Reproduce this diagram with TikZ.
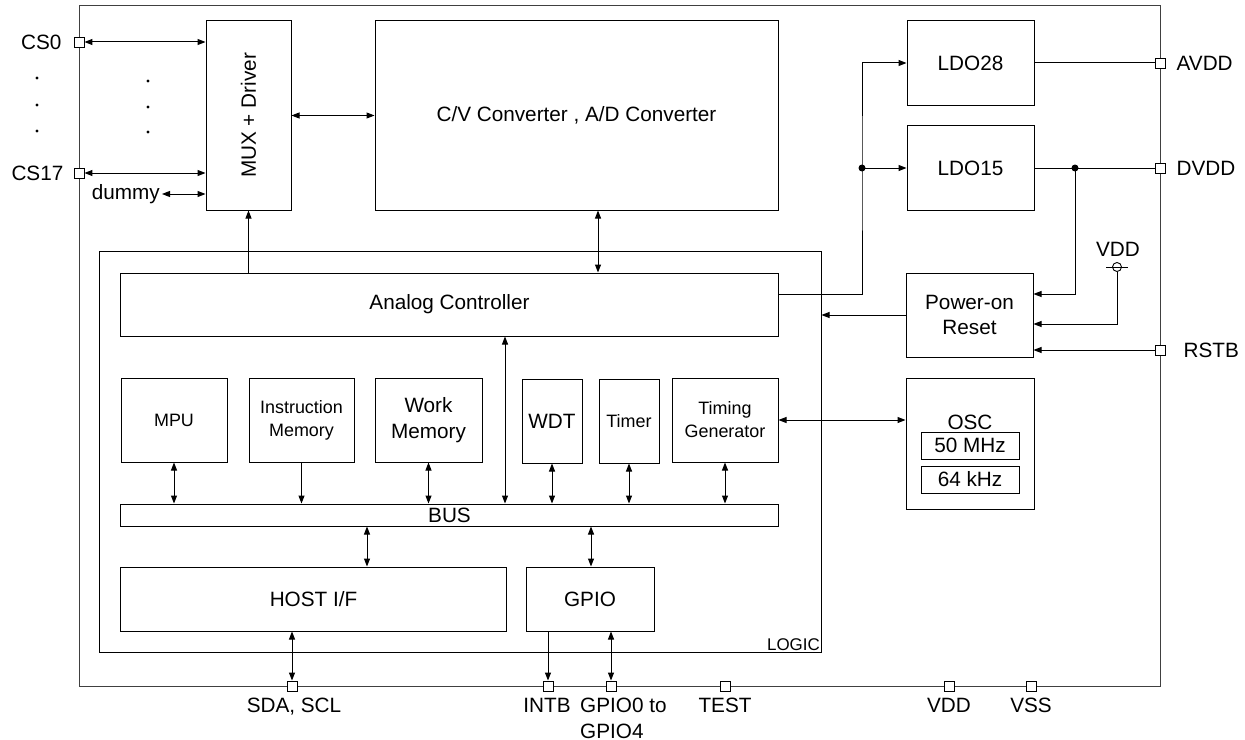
\documentclass[tikz,border=0pt]{standalone}
\usepackage{fontspec}
\setmainfont{Liberation Sans}
\usetikzlibrary{arrows.meta,calc}
\newcommand\fL{\fontsize{20.8}{25.5}\selectfont}
\newcommand\fM{\fontsize{18}{23}\selectfont}
\newcommand\fS{\fontsize{17}{19}\selectfont}
\tikzset{
  >={Triangle[length=8bp,width=6bp]},
  blk/.style={draw, line width=1bp, inner sep=0pt, align=center, font=\fL},
  pinbox/.style={draw, fill=white, line width=0.9bp, minimum size=10bp, inner sep=0pt},
  wire/.style={line width=1bp},
  lbl/.style={font=\fL, inner sep=0pt},
}
\begin{document}
\begin{tikzpicture}[x=1bp,y=-1bp]
\useasboundingbox (0,0) rectangle (1245,740);
% outer frame
\draw[line width=1bp, black!75] (79,6) rectangle (1160,686);

% blocks
\node[blk, minimum width=85bp, minimum height=189bp] (mux) at (248.5,115.5) {};
\node[font=\fL, rotate=90] at (mux) {MUX + Driver};
\node[blk, minimum width=403bp, minimum height=189bp] (conv) at (576.5,115.5) {C/V Converter , A/D Converter};
\node[blk, minimum width=127bp, minimum height=84bp] (ldo28) at (970.5,63) {LDO28};
\node[blk, minimum width=127bp, minimum height=84bp] (ldo15) at (970.5,168) {LDO15};
\node[blk, minimum width=721bp, minimum height=400bp] (logic) at (460.5,452) {};
\node[font=\fS, anchor=south east, inner sep=1.5bp] at (logic.south east) {LOGIC};
\node[blk, minimum width=657bp, minimum height=63bp] (analog) at (449.5,304.5) {Analog Controller};
\node[blk, minimum width=127bp, minimum height=84bp] (por) at (969.5,315) {Power-on\\Reset};
\node[blk, minimum width=128bp, minimum height=131bp] (osc) at (970,443.5) {};
\node[font=\fL, inner sep=0pt] at (970,422) {OSC};
\node[blk, minimum width=98bp, minimum height=27bp] (f50) at (970,445.5) {50 MHz};
\node[blk, minimum width=98bp, minimum height=27bp] (f64) at (970,479.5) {64 kHz};

\node[blk, font=\fM, minimum width=106bp, minimum height=84bp] (mpu) at (174,420) {MPU};
\node[blk, font=\fM, minimum width=105bp, minimum height=84bp] (imem) at (301.5,420) {Instruction\\Memory};
\node[blk, minimum width=107bp, minimum height=84bp] (wmem) at (428.5,420) {Work\\Memory};
\node[blk, minimum width=60bp, minimum height=84bp] (wdt) at (552,421) {WDT};
\node[blk, font=\fM, minimum width=60bp, minimum height=84bp] (timer) at (629,421) {Timer};
\node[blk, font=\fM, minimum width=106bp, minimum height=84bp] (tg) at (725,420) {Timing\\Generator};
\node[blk, minimum width=657bp, minimum height=22bp] (bus) at (449.5,515) {BUS};
\node[blk, minimum width=385bp, minimum height=64bp] (host) at (313.5,599) {HOST I/F};
\node[blk, minimum width=128bp, minimum height=64bp] (gpio) at (590,599) {GPIO};

% pins
\node[pinbox] (cs0) at (79,42) {};
\node[pinbox] (cs17) at (79,173) {};
\node[pinbox] (avdd) at (1160,63) {};
\node[pinbox] (dvdd) at (1160,168) {};
\node[pinbox] (rstb) at (1160,350) {};
\node[pinbox] (sda) at (292,686) {};
\node[pinbox] (intb) at (548,686) {};
\node[pinbox] (gpin) at (611,686) {};
\node[pinbox] (test) at (725,686) {};
\node[pinbox] (vddp) at (949,686) {};
\node[pinbox] (vss) at (1031,686) {};

% pin labels
\node[lbl, anchor=east] at ([xshift=-12bp]cs0.west) {CS0};
\node[lbl, anchor=east] at ([xshift=-10bp]cs17.west) {CS17};
\node[lbl, anchor=west] at ([xshift=11bp]avdd.east) {AVDD};
\node[lbl, anchor=west] at ([xshift=11bp]dvdd.east) {DVDD};
\node[lbl, anchor=west] at ([xshift=18bp]rstb.east) {RSTB};
\node[lbl, anchor=north] at (294,698) {SDA, SCL};
\node[lbl, anchor=north] at (547,698) {INTB};
\node[lbl, anchor=north west, align=left] at (580,698) {GPIO0 to\\GPIO4};
\node[lbl, anchor=north] at (725,698) {TEST};
\node[lbl, anchor=north] at (949,698) {VDD};
\node[lbl, anchor=north] at (1031,698) {VSS};
\node[lbl, anchor=east] (dummy) at (160,194) {dummy};

% dots
\foreach \yy in {78,105,131} \fill (37,\yy) circle (1.7bp);
\foreach \yy in {81,107,132} \fill (148,\yy) circle (1.7bp);

% connectors left
\draw[wire,<->] (cs0.east) -- (cs0.east -| mux.west);
\draw[wire,<->] (cs17.east) -- (cs17.east -| mux.west);
\draw[wire,<->] ([xshift=2bp]dummy.east) -- (dummy.east -| mux.west);
\draw[wire,<->] (mux.east) -- (conv.west);
\draw[wire,->] (analog.north -| mux.south) -- (mux.south);
\coordinate (cx1) at (598,0);
\draw[wire,<->] (conv.south -| cx1) -- (analog.north -| cx1);

% power
\coordinate (j1) at (862,168);
\draw[wire,->] ([yshift=10.5bp]analog.east) -| (j1) |- (ldo28.west);
\draw[wire,->] (j1) -- (ldo15.west);
\fill (j1) circle (3.5bp);
\draw[wire] (ldo28.east) -- (avdd.west);
\coordinate (j2) at (1075,168);
\draw[wire] (ldo15.east) -- (dvdd.west);
\draw[wire,->] (j2) |- ([yshift=21bp]por.east);
\fill (j2) circle (3.5bp);
\node[draw, circle, line width=0.9bp, minimum size=9bp, inner sep=0pt] (vsym) at (1117,267) {};
\draw[wire] (1106,267) -- (1128,267);
\node[lbl] at (1118,249) {VDD};
\draw[wire,->] (vsym.south) |- ([yshift=-9bp]por.east);
\draw[wire,->] (rstb.west) -- (rstb.west -| por.east);
\draw[wire,->] (por.west) -- (por.west -| logic.east);
\draw[wire,<->] (tg.east) -- (tg.east -| osc.west);

% logic internal
\coordinate (cx2) at (505,0);
\draw[wire,<->] (analog.south -| cx2) -- (bus.north -| cx2);
\draw[wire,<->] (mpu.south) -- (mpu.south |- bus.north);
\draw[wire,->] (imem.south) -- (imem.south |- bus.north);
\draw[wire,<->] (wmem.south) -- (wmem.south |- bus.north);
\draw[wire,<->] (wdt.south) -- (wdt.south |- bus.north);
\draw[wire,<->] (timer.south) -- (timer.south |- bus.north);
\draw[wire,<->] (tg.south) -- (tg.south |- bus.north);
\coordinate (cx3) at (367,0);
\draw[wire,<->] (bus.south -| cx3) -- (host.north -| cx3);
\coordinate (cx4) at (591,0);
\draw[wire,<->] (bus.south -| cx4) -- (gpio.north -| cx4);

% bottom
\draw[wire,<->] (host.south -| sda.north) -- (sda.north);
\draw[wire,->] (gpio.south -| intb.north) -- (intb.north);
\draw[wire,<->] (gpio.south -| gpin.north) -- (gpin.north);
\end{tikzpicture}
\end{document}
